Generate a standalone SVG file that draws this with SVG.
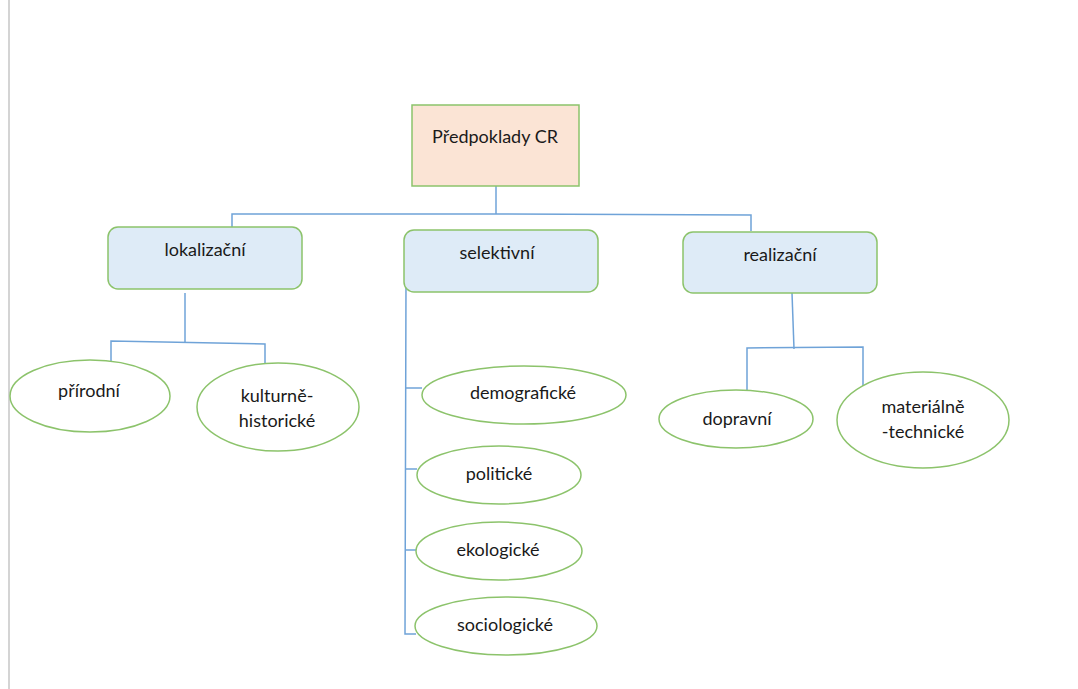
<svg xmlns="http://www.w3.org/2000/svg" width="1078" height="689" viewBox="0 0 1078 689">
<style>
.bg{fill:#ffffff}
.page{stroke:#d4d4d4;stroke-width:2;fill:none}
.root{fill:#fbe4d5;stroke:#8cc36b;stroke-width:1.5}
.box{fill:#deebf7;stroke:#8cc36b;stroke-width:1.5}
.ell{fill:#ffffff;stroke:#8cc36b;stroke-width:1.5}
.con{stroke:#6fa3d8;stroke-width:1.5;fill:none}
text{font-family:Lato,"Liberation Sans",sans-serif;font-size:18px;fill:#1a1a1a;text-anchor:middle}
</style>
<rect class="bg" x="0" y="0" width="1078" height="689"/>
<line class="page" x1="9" y1="0" x2="9" y2="689"/>
<g id="connectors">
<polyline class="con" points="496,186 496,214"/>
<polyline class="con" points="232,227 232,214 496,214 751,215 751,231"/>
<polyline class="con" points="185,293 185,342"/>
<polyline class="con" points="111,361 111,341 265,344 265,367"/>
<polyline class="con" points="406,280 405,634 416,634"/>
<line class="con" x1="406" y1="388" x2="422" y2="388"/>
<line class="con" x1="406" y1="469" x2="417" y2="469"/>
<line class="con" x1="405" y1="550" x2="416" y2="550"/>
<polyline class="con" points="792,293 794,349"/>
<polyline class="con" points="747,390 747,348 863,347 863,387"/>
</g>
<g id="root">
<rect class="root" x="412" y="105" width="167" height="81"/>
<text x="495" y="143">Předpoklady CR</text>
</g>
<g id="lokalizacni">
<rect class="box" x="108" y="227" width="194" height="62" rx="10"/>
<text x="205" y="256">lokalizační</text>
</g>
<g id="selektivni">
<rect class="box" x="404" y="230" width="194" height="62" rx="10"/>
<text x="497" y="259">selektivní</text>
</g>
<g id="realizacni">
<rect class="box" x="683" y="232" width="194" height="61" rx="10"/>
<text x="780" y="261">realizační</text>
</g>
<g id="prirodni">
<ellipse class="ell" cx="90" cy="396" rx="80" ry="36"/>
<text x="89" y="397">přírodní</text>
</g>
<g id="kulturne-historicke">
<ellipse class="ell" cx="278" cy="407" rx="81" ry="44"/>
<text x="277" y="402">kulturně-</text>
<text x="277" y="427">historické</text>
</g>
<g id="demograficke">
<ellipse class="ell" cx="524" cy="395" rx="102" ry="29"/>
<text x="523" y="399">demografické</text>
</g>
<g id="politicke">
<ellipse class="ell" cx="499" cy="475" rx="82" ry="29"/>
<text x="499" y="480">politické</text>
</g>
<g id="ekologicke">
<ellipse class="ell" cx="499" cy="551" rx="83" ry="29"/>
<text x="498" y="556">ekologické</text>
</g>
<g id="sociologicke">
<ellipse class="ell" cx="506" cy="626" rx="91" ry="29"/>
<text x="505" y="631">sociologické</text>
</g>
<g id="dopravni">
<ellipse class="ell" cx="736" cy="419" rx="77" ry="29"/>
<text x="737" y="425">dopravní</text>
</g>
<g id="materialne-technicke">
<ellipse class="ell" cx="923" cy="420" rx="86" ry="48"/>
<text x="923" y="413">materiálně</text>
<text x="923" y="438">-technické</text>
</g>
</svg>
